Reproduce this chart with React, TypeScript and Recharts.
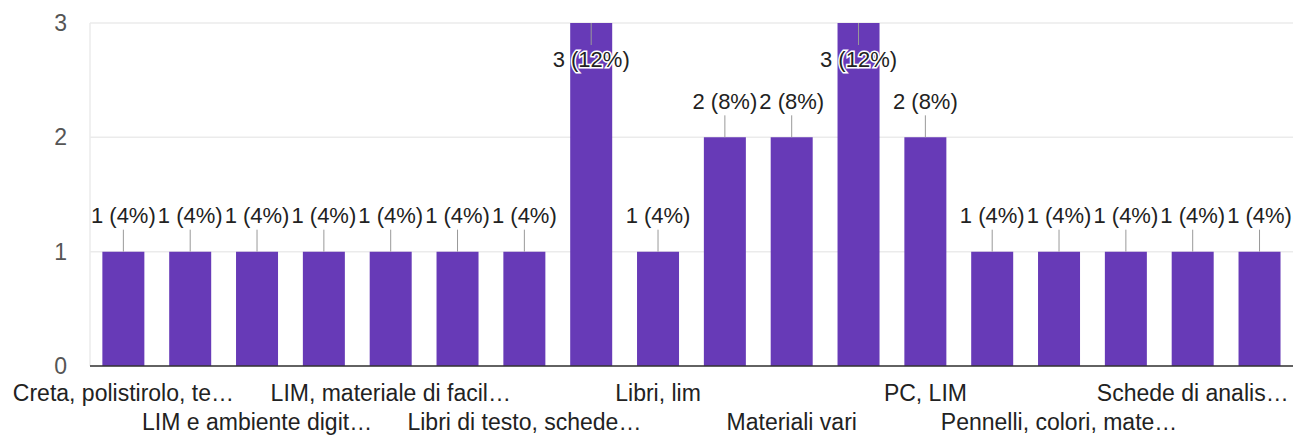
import { BarChart, Bar, XAxis, YAxis, CartesianGrid, LabelList } from 'recharts';

// risposte (etichette come mostrate nel grafico, tagliate con …)
const categories = [
  'Creta, polistirolo, te…',
  'Fotocopie, LIM',
  'LIM e ambiente digit…',
  'LIM, libri',
  'LIM, materiale di facil…',
  'Libri di testo',
  'Libri di testo, schede…',
  'Libri e schede',
  'Libri, lim',
  'Materiale didattico',
  'Materiali vari',
  'Nessuno',
  'PC, LIM',
  'PC, libri',
  'Pennelli, colori, mate…',
  'Schede',
  'Schede di analis…',
  'Tablet',
];
const counts = [1, 1, 1, 1, 1, 1, 1, 3, 1, 2, 2, 3, 2, 1, 1, 1, 1, 1];
const yTicks = [0, 1, 2, 3];

const total = counts.reduce((a, b) => a + b, 0);
const data = categories.map((name, i) => ({ name, value: counts[i] }));

const FONT = '"Liberation Sans", Arial, sans-serif';
const MAX = yTicks[yTicks.length - 1];

// etichetta con stanghetta sopra la barra (dentro se la barra tocca il bordo)
const BarLabel = (props: any) => {
  const { x, y, width, value } = props;
  const cx = x + width / 2;
  const pct = Math.round((value / total) * 100);
  const text = `${value} (${pct}%)`;
  const inside = value >= MAX;
  const stemEnd = inside ? y + 22 : y - 22;
  const textY = inside ? y + 36 : y - 36;
  return (
    <g>
      <line x1={cx} y1={y} x2={cx} y2={stemEnd} stroke="#999" strokeWidth={1} />
      <text
        x={cx}
        y={textY}
        textAnchor="middle"
        dominantBaseline="central"
        fontFamily={FONT}
        fontSize={22}
        fill="#222"
        stroke={inside ? '#fff' : 'none'}
        strokeWidth={inside ? 3 : 0}
        paintOrder="stroke"
      >
        {text}
      </text>
    </g>
  );
};

// solo una etichetta ogni due, su due righe alternate
const XTick = (props: any) => {
  const { x, y, payload } = props;
  const index = payload.index ?? props.index;
  if (index % 2 === 1) return <g />;
  const row = (index / 2) % 2;
  return (
    <text
      x={x}
      y={y + (row === 0 ? 21 : 50)}
      textAnchor="middle"
      dominantBaseline="central"
      fontFamily={FONT}
      fontSize={23}
      fill="#222"
    >
      {payload.value}
    </text>
  );
};

export default function App() {
  return (
    <div style={{ position: 'absolute', left: 0, top: 0, background: '#fff' }}>
      <BarChart
        width={1295}
        height={435}
        data={data}
        margin={{ top: 23, right: 2, bottom: 0, left: 0 }}
        barCategoryGap="18.5%"
      >
        <CartesianGrid vertical={false} stroke="#ebebeb" strokeWidth={1.5} />
        <YAxis
          domain={[0, MAX]}
          ticks={yTicks}
          width={90}
          axisLine={{ stroke: '#ebebeb', strokeWidth: 1.5 }}
          tickLine={false}
          tickMargin={17}
          tick={{ fill: '#555', fontSize: 23, fontFamily: FONT }}
        />
        <YAxis
          yAxisId="right"
          orientation="right"
          domain={[0, MAX]}
          width={0}
          axisLine={{ stroke: '#ebebeb', strokeWidth: 1.5 }}
          tickLine={false}
          tick={false}
        />
        <XAxis
          dataKey="name"
          interval={0}
          height={69}
          tickLine={false}
          tickMargin={0}
          axisLine={{ stroke: '#333', strokeWidth: 1.5 }}
          tick={<XTick />}
        />
        <Bar dataKey="value" fill="#673ab7" isAnimationActive={false}>
          <LabelList dataKey="value" content={<BarLabel />} />
        </Bar>
      </BarChart>
    </div>
  );
}
